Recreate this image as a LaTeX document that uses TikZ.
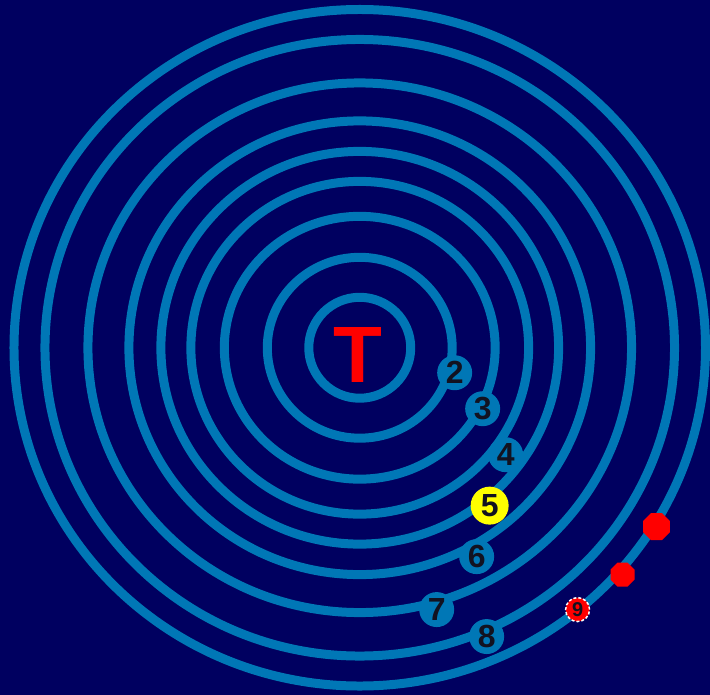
\documentclass[tikz,border=0pt]{standalone}
\usepackage{fontspec}
\setmainfont{Liberation Sans}
\usetikzlibrary{shapes.geometric}
\definecolor{night}  {HTML}{000060}
\definecolor{orbit}  {HTML}{0077B6}
\definecolor{digit}  {HTML}{121220}
\definecolor{hot}    {HTML}{FF0000}
\definecolor{sunny}  {HTML}{FFFF00}
\tikzset{
  % --- rings
  ring/.style    = {draw=orbit, line width=9pt},
  % --- nodes
  spot/.style    = {circle, fill=orbit, inner sep=0pt, minimum size=35pt, text=digit,
                    font=\fontsize{32}{32}\selectfont\bfseries},
  spotnow/.style = {spot, fill=sunny, minimum size=38pt},
  spotdone/.style= {spot, fill=hot, draw=white, densely dashed, line width=1.5pt,
                    minimum size=24pt, font=\fontsize{20}{20}\selectfont\bfseries},
  blip/.style    = {regular polygon, regular polygon sides=8, fill=hot, inner sep=0pt},
}
\begin{document}
\begin{tikzpicture}[x=1pt, y=-1pt]
  \fill[night] (0,0) rectangle (710,695);
  \coordinate (hub) at (360,348);
  \foreach \rx/\ry in {51/50.5, 92.5/90.5, 135.5/131.5, 169/166.5, 199/196.5,
                       231/227, 272/265, 315/308.5, 346/338.5}
    \draw[ring] (hub) ellipse [x radius=\rx, y radius=\ry];

  \node[text=hot, font=\fontsize{80}{80}\selectfont\bfseries] (tee) at (358,355) {T};

  \foreach \n/\x/\y in {2/455/373, 3/483/409, 4/506/455, 6/477/557, 7/437/610, 8/487/637}
    \node[spot] (m\n) at (\x,\y) {\n};
  \node[spotnow] (m5) at (490,506) {5};
  \node[spotdone] (m9) at (578,610) {9};

  \node[blip, minimum size=29pt] (dotA) at (657,527) {};
  \node[blip, minimum size=26pt] (dotB) at (623,575) {};
\end{tikzpicture}
\end{document}
